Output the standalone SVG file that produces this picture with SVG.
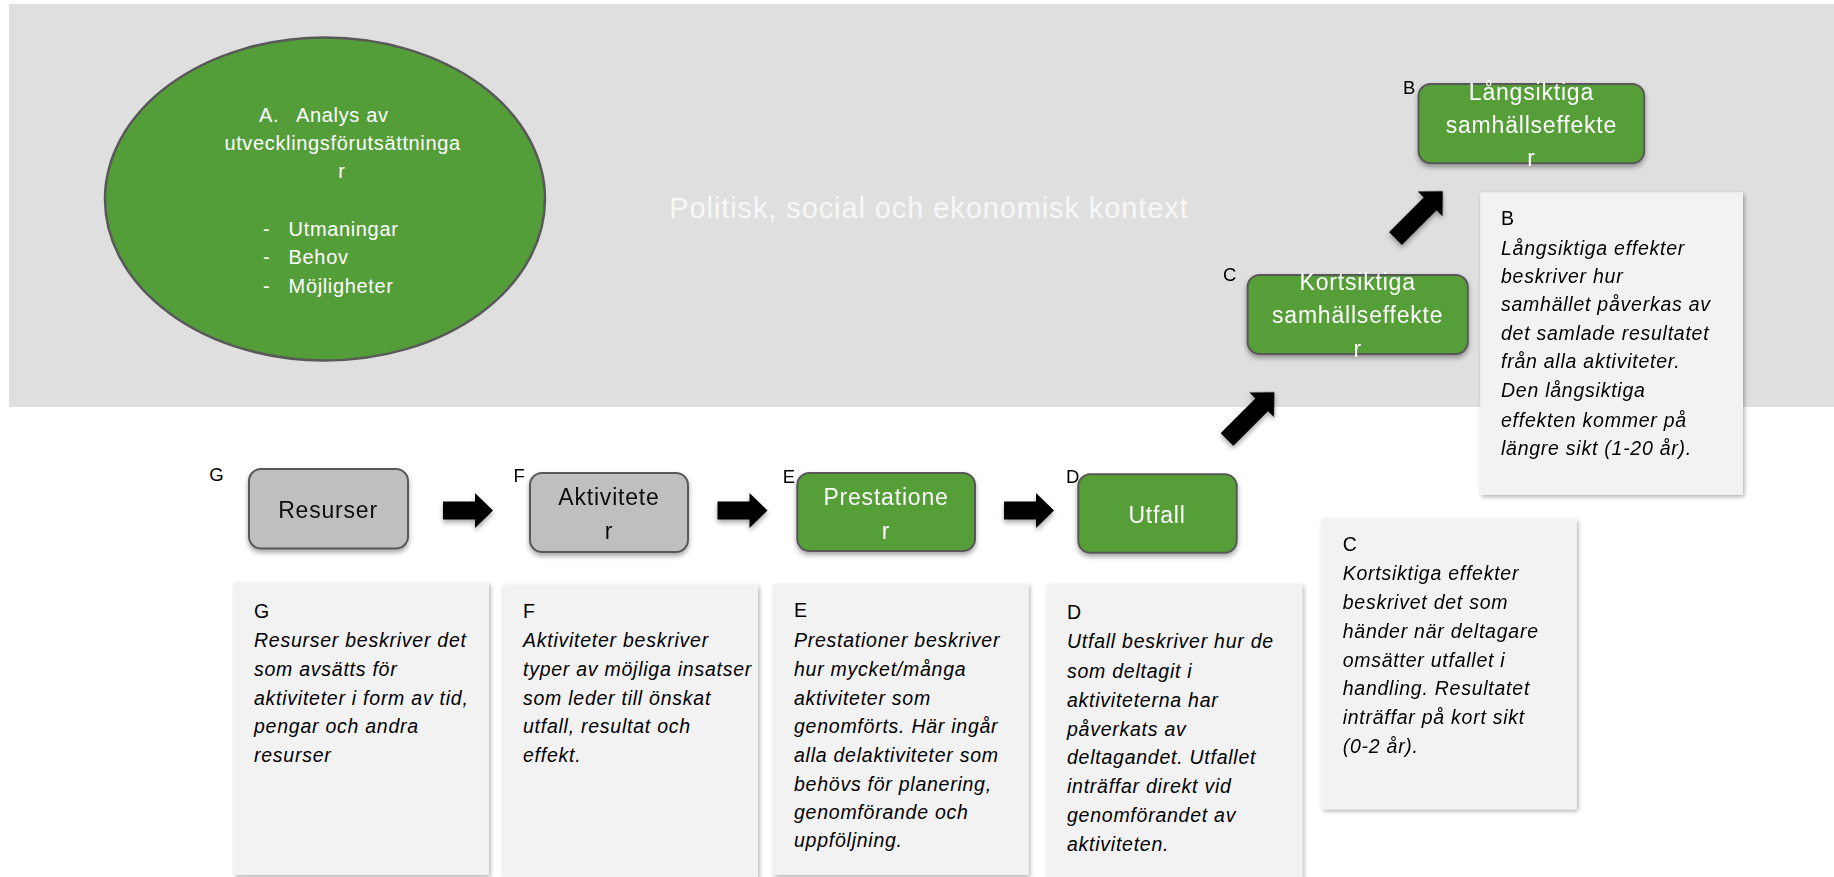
<svg xmlns="http://www.w3.org/2000/svg" width="1834" height="877" viewBox="0 0 1834 877">
<defs>
<style>
text{font-family:"Liberation Sans",Arial,sans-serif}
.node rect{stroke:#595959;stroke-width:2}
.green{fill:#549e39}
.grey{fill:#bfbfbf}
.lbl{font-size:23px;letter-spacing:0.8px;text-anchor:middle}
.wt{fill:#ffffff}
.bk{fill:#0d0d0d}
.tag{font-size:18.5px;fill:#000}
.desc rect{fill:#f2f2f2}
.dh{font-size:19.5px;letter-spacing:0.75px;fill:#000}
.dt{font-size:19.5px;letter-spacing:0.75px;font-style:italic;fill:#000}
.ell{font-size:20px;letter-spacing:0.65px;fill:#fff}
.arrow{fill:#000}
</style>
<filter id="sh" x="-20%" y="-20%" width="140%" height="170%">
<feDropShadow dx="0" dy="3" stdDeviation="2.5" flood-color="#000" flood-opacity="0.35"/>
</filter>
<filter id="shd" x="-10%" y="-10%" width="125%" height="125%">
<feDropShadow dx="1.5" dy="2" stdDeviation="2" flood-color="#000" flood-opacity="0.3"/>
</filter>
</defs>

<rect id="context-bg" x="9" y="4" width="1825" height="403" fill="#dfdfdf"/>
<text x="929" y="218" font-size="29" letter-spacing="0.9" fill="#f7f7f7" text-anchor="middle">Politisk, social och ekonomisk kontext</text>

<g id="nodeA">
<ellipse cx="325" cy="199" rx="220" ry="161.5" fill="#549e39" stroke="#595959" stroke-width="2.5"/>
<text class="ell" y="121.7"><tspan x="259">A.</tspan><tspan x="296">Analys av</tspan></text>
<text class="ell" x="342.6" y="150" text-anchor="middle">utvecklingsförutsättninga</text>
<text class="ell" x="342" y="178" text-anchor="middle">r</text>
<text class="ell" y="236"><tspan x="263">-</tspan><tspan x="288.6">Utmaningar</tspan></text>
<text class="ell" y="264.3"><tspan x="263">-</tspan><tspan x="288.6">Behov</tspan></text>
<text class="ell" y="293.3"><tspan x="263">-</tspan><tspan x="288.6">Möjligheter</tspan></text>
</g>

<g id="connectors" filter="url(#sh)">
<path class="arrow" transform="translate(443,510.5)" d="M0,-9 H32 V-17.5 L50,0 L32,17.5 V9 H0 Z"/>
<path class="arrow" transform="translate(717.5,510.5)" d="M0,-9 H32 V-17.5 L50,0 L32,17.5 V9 H0 Z"/>
<path class="arrow" transform="translate(1004,510.5)" d="M0,-9 H32 V-17.5 L50,0 L32,17.5 V9 H0 Z"/>
<path class="arrow" transform="translate(1227,439.5) rotate(-45)" d="M0,-9 H49 V-17.5 L67,0 L49,17.5 V9 H0 Z"/>
<path class="arrow" transform="translate(1395.5,238.5) rotate(-45)" d="M0,-9 H49 V-17.5 L67,0 L49,17.5 V9 H0 Z"/>
</g>

<g id="nodeG" class="node">
<text class="tag" x="209.3" y="480.7">G</text>
<rect class="grey" x="249" y="469" width="159" height="79.5" rx="12" filter="url(#sh)"/>
<text class="lbl bk" x="328" y="518.3" letter-spacing="-0.3">Resurser</text>
</g>

<g id="nodeF" class="node">
<text class="tag" x="513.6" y="481.7">F</text>
<rect class="grey" x="530" y="473" width="158" height="79" rx="12" filter="url(#sh)"/>
<text class="lbl bk" x="609" y="505">Aktivitete</text>
<text class="lbl bk" x="609" y="539.3">r</text>
</g>

<g id="nodeE" class="node">
<text class="tag" x="782.7" y="483.3">E</text>
<rect class="green" x="797.3" y="473" width="177.7" height="78" rx="12" filter="url(#sh)"/>
<text class="lbl wt" x="886" y="505">Prestatione</text>
<text class="lbl wt" x="886" y="539.3">r</text>
</g>

<g id="nodeD" class="node">
<text class="tag" x="1066" y="483.3">D</text>
<rect class="green" x="1078.3" y="474.3" width="158.4" height="78.4" rx="12" filter="url(#sh)"/>
<text class="lbl wt" x="1157" y="522.7">Utfall</text>
</g>

<g id="nodeC" class="node">
<text class="tag" x="1223" y="280.7">C</text>
<rect class="green" x="1247.6" y="275" width="220.2" height="79" rx="12" filter="url(#sh)"/>
<text class="lbl wt" x="1357.7" y="290">Kortsiktiga</text>
<text class="lbl wt" x="1357.7" y="323.3">samhällseffekte</text>
<text class="lbl wt" x="1357.7" y="356.7">r</text>
</g>

<g id="nodeB" class="node">
<text class="tag" x="1403" y="94.3">B</text>
<rect class="green" x="1418.6" y="84" width="225.6" height="79.3" rx="12" filter="url(#sh)"/>
<text class="lbl wt" x="1531.4" y="100">Långsiktiga</text>
<text class="lbl wt" x="1531.4" y="133.3">samhällseffekte</text>
<text class="lbl wt" x="1531.4" y="166">r</text>
</g>

<g id="descG" class="desc">
<rect x="234" y="582.7" width="255" height="292.3" filter="url(#shd)"/>
<text class="dh" x="254" y="618.3">G</text>
<text class="dt" x="254" y="647.3">Resurser beskriver det</text>
<text class="dt" x="254" y="676">som avsätts för</text>
<text class="dt" x="254" y="705">aktiviteter i form av tid,</text>
<text class="dt" x="254" y="733.3">pengar och andra</text>
<text class="dt" x="254" y="761.7">resurser</text>
</g>

<g id="descF" class="desc">
<rect x="503" y="585" width="255" height="292" filter="url(#shd)"/>
<text class="dh" x="523" y="618">F</text>
<text class="dt" x="523" y="647">Aktiviteter beskriver</text>
<text class="dt" x="523" y="676">typer av möjliga insatser</text>
<text class="dt" x="523" y="705">som leder till önskat</text>
<text class="dt" x="523" y="733">utfall, resultat och</text>
<text class="dt" x="523" y="762">effekt.</text>
</g>

<g id="descE" class="desc">
<rect x="773.3" y="584" width="255.3" height="291" filter="url(#shd)"/>
<text class="dh" x="794" y="617">E</text>
<text class="dt" x="794" y="647">Prestationer beskriver</text>
<text class="dt" x="794" y="676">hur mycket/många</text>
<text class="dt" x="794" y="705">aktiviteter som</text>
<text class="dt" x="794" y="733">genomförts. Här ingår</text>
<text class="dt" x="794" y="762">alla delaktiviteter som</text>
<text class="dt" x="794" y="790.5">behövs för planering,</text>
<text class="dt" x="794" y="818.5">genomförande och</text>
<text class="dt" x="794" y="847">uppföljning.</text>
</g>

<g id="descD" class="desc">
<rect x="1046.7" y="584" width="255.6" height="300" filter="url(#shd)"/>
<text class="dh" x="1067" y="619.3">D</text>
<text class="dt" x="1067" y="648.3">Utfall beskriver hur de</text>
<text class="dt" x="1067" y="677.7">som deltagit i</text>
<text class="dt" x="1067" y="706.7">aktiviteterna har</text>
<text class="dt" x="1067" y="736">påverkats av</text>
<text class="dt" x="1067" y="764">deltagandet. Utfallet</text>
<text class="dt" x="1067" y="793.3">inträffar direkt vid</text>
<text class="dt" x="1067" y="821.7">genomförandet av</text>
<text class="dt" x="1067" y="850.7">aktiviteten.</text>
</g>

<g id="descC" class="desc">
<rect x="1321.7" y="519" width="255" height="290.3" filter="url(#shd)"/>
<text class="dh" x="1342.7" y="550.7">C</text>
<text class="dt" x="1342.7" y="580">Kortsiktiga effekter</text>
<text class="dt" x="1342.7" y="609.3">beskrivet det som</text>
<text class="dt" x="1342.7" y="637.7">händer när deltagare</text>
<text class="dt" x="1342.7" y="666.7">omsätter utfallet i</text>
<text class="dt" x="1342.7" y="695">handling. Resultatet</text>
<text class="dt" x="1342.7" y="724">inträffar på kort sikt</text>
<text class="dt" x="1342.7" y="753.3">(0-2 år).</text>
</g>

<g id="descB" class="desc">
<rect x="1480.3" y="192.3" width="262.7" height="302.7" filter="url(#shd)"/>
<text class="dh" x="1501" y="225">B</text>
<text class="dt" x="1501" y="255">Långsiktiga effekter</text>
<text class="dt" x="1501" y="282.7">beskriver hur</text>
<text class="dt" x="1501" y="311">samhället påverkas av</text>
<text class="dt" x="1501" y="340">det samlade resultatet</text>
<text class="dt" x="1501" y="368.3">från alla aktiviteter.</text>
<text class="dt" x="1501" y="397.3">Den långsiktiga</text>
<text class="dt" x="1501" y="426.7">effekten kommer på</text>
<text class="dt" x="1501" y="455">längre sikt (1-20 år).</text>
</g>
</svg>
